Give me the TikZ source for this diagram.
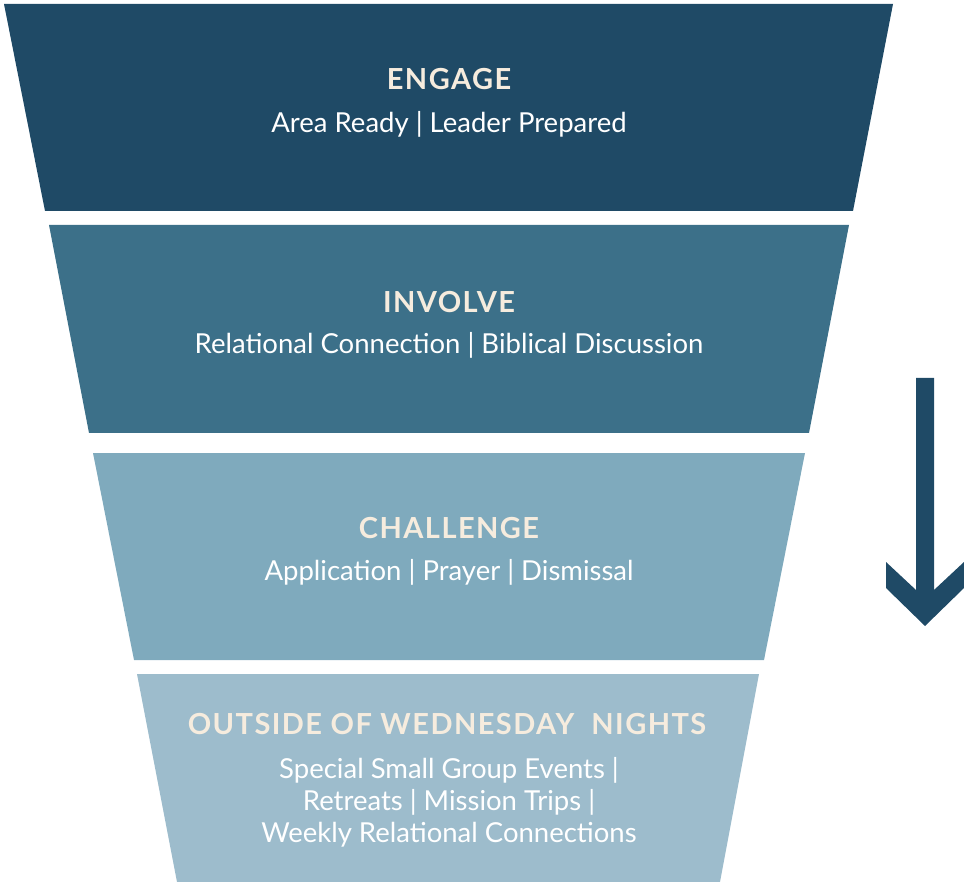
\documentclass[tikz,border=0pt]{standalone}
\usepackage{fontspec}
\setmainfont{Lato}
\newfontfamily\tierfont[LetterSpace=5]{Lato}
\definecolor{engagecol}{RGB}{31,74,102}
\definecolor{involvecol}{RGB}{60,112,137}
\definecolor{challengecol}{RGB}{127,170,189}
\definecolor{outsidecol}{RGB}{157,188,204}
\definecolor{cream}{RGB}{246,236,222}
\begin{document}
\begin{tikzpicture}[line join=round, x=1pt, y=-1pt]
	\tikzset{every node/.style={inner sep=0pt, anchor=base},
		title/.style={text=cream, font=\tierfont\fontsize{29}{30}\selectfont\bfseries},
		sub/.style={text=white, font=\fontsize{27.5}{32}\selectfont, align=center}}
	\useasboundingbox (0,0) rectangle (964,882);
	% funnel tiers
	\fill[engagecol] (4,4)--(893,4)--(853,211)--(45,211)--cycle;
	\fill[involvecol] (49,225)--(849,225)--(809,433)--(89,433)--cycle;
	\fill[challengecol] (93,453)--(805,453)--(764,660)--(134,660)--cycle;
	\fill[outsidecol] (137,674)--(759,674)--(720,882)--(177,882)--cycle;
	% labels
	\node[title] (engage) at (449,90) {ENGAGE};
	\node[sub] (engagesub) at (449,133) {Area Ready | Leader Prepared};
	\node[title] (involve) at (449,313) {INVOLVE};
	\node[sub] (involvesub) at (449,354) {Relational Connection | Biblical Discussion};
	\node[title] (challenge) at (449,538) {CHALLENGE};
	\node[sub] (challengesub) at (449,580) {Application | Prayer | Dismissal};
	\node[title] (outside) at (447,734) {OUTSIDE OF WEDNESDAY\ \ NIGHTS};
	\node[sub] (outsidesub) at (449,842) {Special Small Group Events |\\Retreats | Mission Trips |\\Weekly Relational Connections};
	% arrow
	\fill[engagecol] (916,378)--(934,378)--(934,590)--(964,562)--(964,588)--(925,626)--(886,588)--(886,562)--(916,590)--cycle;
\end{tikzpicture}
\end{document}
